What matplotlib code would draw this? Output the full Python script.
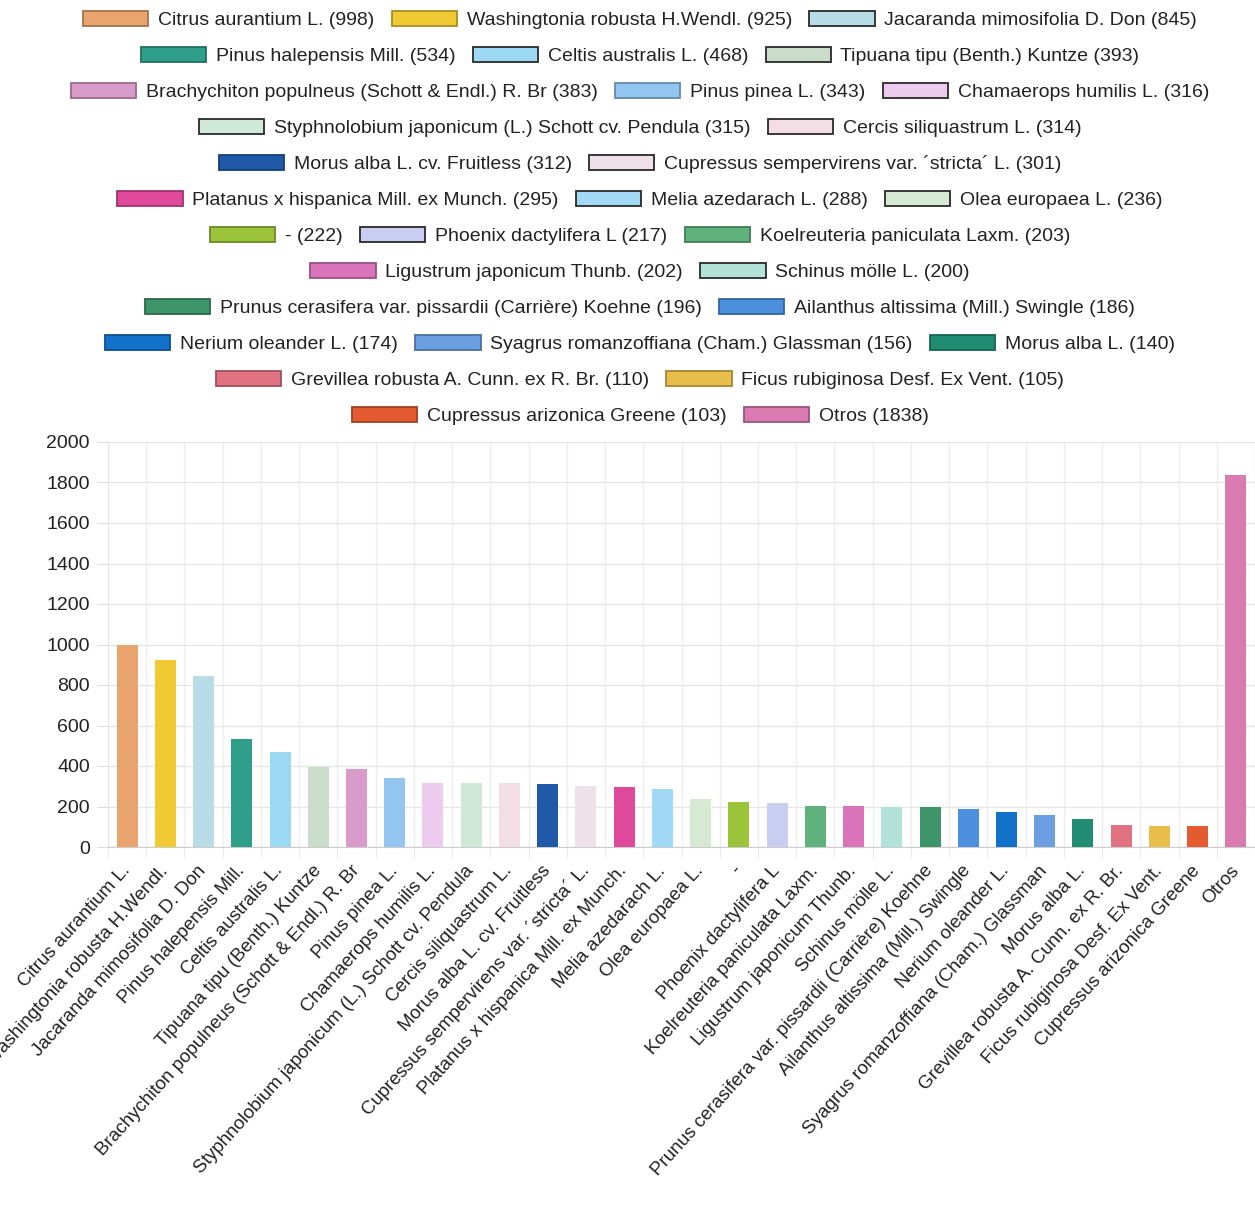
import numpy as np
import matplotlib.pyplot as plt
from matplotlib.patches import Patch
from matplotlib.colors import to_rgb

species = ["Citrus aurantium L.", "Washingtonia robusta H.Wendl.", "Jacaranda mimosifolia D. Don",
           "Pinus halepensis Mill.", "Celtis australis L.", "Tipuana tipu (Benth.) Kuntze",
           "Brachychiton populneus (Schott & Endl.) R. Br", "Pinus pinea L.", "Chamaerops humilis L.",
           "Styphnolobium japonicum (L.) Schott cv. Pendula", "Cercis siliquastrum L.",
           "Morus alba L. cv. Fruitless", "Cupressus sempervirens var. \u00b4stricta\u00b4 L.",
           "Platanus x hispanica Mill. ex Munch.", "Melia azedarach L.", "Olea europaea L.",
           "-", "Phoenix dactylifera L", "Koelreuteria paniculata Laxm.",
           "Ligustrum japonicum Thunb.", "Schinus m\u00f6lle L.",
           "Prunus cerasifera var. pissardii (Carri\u00e8re) Koehne", "Ailanthus altissima (Mill.) Swingle",
           "Nerium oleander L.", "Syagrus romanzoffiana (Cham.) Glassman", "Morus alba L.",
           "Grevillea robusta A. Cunn. ex R. Br.", "Ficus rubiginosa Desf. Ex Vent.",
           "Cupressus arizonica Greene", "Otros"]
counts = [998, 925, 845, 534, 468, 393, 383, 343, 316, 315, 314, 312, 301, 295, 288, 236,
          222, 217, 203, 202, 200, 196, 186, 174, 156, 140, 110, 105, 103, 1838]
colors = ["#E9A46E", "#F0C933", "#B9DDE7", "#2F9E8B", "#9DD8F4", "#C9DDCA", "#D99BC9", "#92C5EF",
          "#ECCBEF", "#CFE8D8", "#F3DEE5", "#2059A8", "#EEE1E7", "#DF4A9C", "#A2D9F6", "#D6E9D2",
          "#9BC43B", "#C9CDF1", "#5FB27C", "#D973BA", "#B3E2D9", "#3F956A", "#4C8FDD", "#1271C9",
          "#6C9FE1", "#208D72", "#E17282", "#E9BE4A", "#E25B31", "#D97AB1"]
# how many legend entries go on each line
legend_rows = [3, 3, 3, 2, 2, 3, 3, 2, 2, 3, 2, 2]

plt.rcParams['font.family'] = ['Liberation Sans', 'DejaVu Sans']
txt = '#222222'

fig = plt.figure(figsize=(12.55, 12.05), dpi=100)
ax = fig.add_axes([108/1255, 1-847/1205, 1-108/1255, (847-442)/1205])

x = np.arange(len(counts))
ax.bar(x, counts, width=0.55, color=colors, zorder=3)
ax.set_xlim(-0.5, len(counts)-0.5)
ax.set_ylim(0, 2000)
ax.set_yticks(np.arange(0, 2001, 200))
ax.tick_params(axis='y', labelsize=14, colors='#dddddd', labelcolor=txt, length=8, pad=5)
ax.set_xticks(x)
ax.set_xticklabels(species, rotation=48, ha='right', va='center', rotation_mode='anchor',
                   fontsize=13.5, color=txt)
ax.tick_params(axis='x', length=0, pad=15)
ax.set_xticks(np.arange(-0.5, len(counts), 1), minor=True)
ax.tick_params(axis='x', which='minor', length=8, color='#e6e6e6')
ax.grid(axis='y', color='#e6e6e6', lw=1, zorder=0)
ax.grid(axis='x', which='minor', color='#eeeeee', lw=1, zorder=0)
for s in ['top', 'right']:
    ax.spines[s].set_visible(False)
ax.spines['left'].set_color('#e6e6e6')
ax.spines['bottom'].set_color('#cccccc')


def edge_for(c):
    r, g, b = to_rgb(c)
    if 0.3*r + 0.59*g + 0.11*b > 0.78:
        return '#2a2a2a'
    return (r*0.7, g*0.7, b*0.7)


# centred legend lines, one legend per line
i = 0
y0 = 1 - 20/1205
for r, n in enumerate(legend_rows):
    handles = [Patch(facecolor=colors[k], edgecolor=edge_for(colors[k]), lw=1.3)
               for k in range(i, i+n)]
    labels = ["%s (%d)" % (species[k], counts[k]) for k in range(i, i+n)]
    leg = fig.legend(handles, labels, loc='center', bbox_to_anchor=(0.51, y0 - r*36/1205),
                     ncol=n, frameon=False, fontsize=14, handlelength=3.35, handleheight=0.85,
                     handletextpad=0.5, columnspacing=0.9, borderpad=0, borderaxespad=0)
    for t in leg.get_texts():
        t.set_color(txt)
    i += n

fig.savefig('out.png', dpi=100)
